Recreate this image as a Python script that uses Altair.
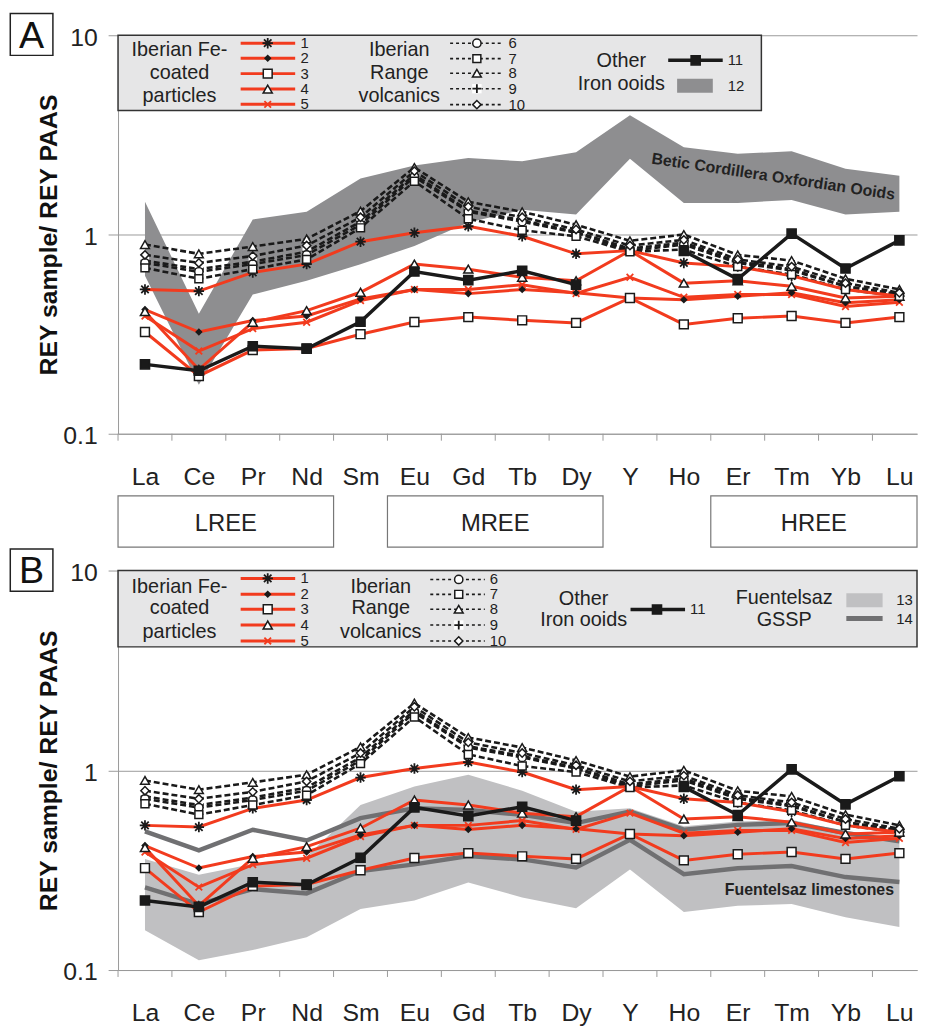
import altair as alt
import pandas as pd

# ---------------- data ----------------
CATS = ["La", "Ce", "Pr", "Nd", "Sm", "Eu", "Gd", "Tb", "Dy", "Y", "Ho", "Er", "Tm", "Yb", "Lu"]

# Iberian Fe-coated particles
S1 = [0.53, 0.52, 0.645, 0.71, 0.92, 1.02, 1.10, 0.98, 0.80, 0.83, 0.72, 0.69, 0.62, 0.53, 0.49]
S2 = [0.42, 0.324, 0.37, 0.39, 0.475, 0.53, 0.505, 0.53, 0.51, 0.48, 0.47, 0.49, 0.51, 0.455, 0.47]
S3 = [0.324, 0.195, 0.263, 0.268, 0.316, 0.364, 0.385, 0.371, 0.36, 0.48, 0.354, 0.38, 0.39, 0.36, 0.385]
S4 = [0.41, 0.21, 0.363, 0.415, 0.513, 0.71, 0.67, 0.61, 0.586, 0.83, 0.57, 0.586, 0.55, 0.48, 0.49]
S5 = [0.39, 0.26, 0.337, 0.363, 0.466, 0.53, 0.53, 0.56, 0.506, 0.61, 0.484, 0.50, 0.50, 0.435, 0.457]
# Iberian Range volcanics
S6 = [0.72, 0.65, 0.71, 0.79, 1.12, 1.95, 1.30, 1.16, 1.02, 0.83, 0.89, 0.72, 0.66, 0.55, 0.50]
S7 = [0.68, 0.60, 0.67, 0.75, 1.08, 1.85, 1.20, 1.05, 0.98, 0.82, 0.84, 0.69, 0.63, 0.53, 0.49]
S8 = [0.89, 0.80, 0.87, 0.95, 1.31, 2.17, 1.46, 1.30, 1.12, 0.93, 1.00, 0.79, 0.74, 0.60, 0.53]
S9 = [0.74, 0.67, 0.73, 0.82, 1.16, 2.00, 1.32, 1.18, 1.03, 0.85, 0.91, 0.73, 0.67, 0.55, 0.50]
S10 = [0.79, 0.72, 0.78, 0.88, 1.22, 2.08, 1.38, 1.22, 1.06, 0.88, 0.94, 0.75, 0.69, 0.57, 0.51]
# Other iron ooids (no Y value)
S11 = [0.223, 0.207, 0.275, 0.267, 0.365, 0.652, 0.59, 0.657, 0.56, None, 0.826, 0.597, 1.01, 0.675, 0.934]

SERIES = {"1": S1, "2": S2, "3": S3, "4": S4, "5": S5, "6": S6, "7": S7,
          "8": S8, "9": S9, "10": S10, "11": S11}

# 12: Betic Cordillera Oxfordian ooids (range)
BAND12_LOW = [0.62, 0.176, 0.50, 0.586, 0.71, 0.875, 1.15, 1.33, 1.26, 2.40, 1.44, 1.44, 1.49, 1.26, 1.30]
BAND12_HIGH = [1.46, 0.40, 1.19, 1.30, 1.91, 2.22, 2.42, 2.33, 2.59, 3.97, 2.74, 2.54, 2.62, 2.14, 1.97]
# 13: Fuentelsaz limestones (range), 14: Fuentelsaz GSSP lines
BAND13_LOW = [0.158, 0.112, 0.126, 0.146, 0.202, 0.223, 0.274, 0.231, 0.204, 0.319, 0.195, 0.21, 0.214, 0.184, 0.164]
BAND13_HIGH = [0.36, 0.30, 0.34, 0.37, 0.67, 0.83, 0.95, 0.79, 0.62, 0.645, 0.524, 0.554, 0.565, 0.494, 0.458]
LINE14A = [0.494, 0.397, 0.504, 0.445, 0.576, 0.645, 0.633, 0.598, 0.544, 0.622, 0.504, 0.533, 0.544, 0.485, 0.441]
LINE14B = [0.259, 0.214, 0.254, 0.242, 0.313, 0.338, 0.372, 0.358, 0.326, 0.449, 0.302, 0.323, 0.332, 0.292, 0.276]

REE_GROUPS = ["LREE", "MREE", "HREE"]
REE_FROM = ["La", "Eu", "Er"]
REE_TO = ["Nd", "Dy", "Lu"]

# ---------------- styles ----------------
FONT = "Liberation Sans"
RED = "#f23b1e"
DARK = "#1a1a1a"
AXIS_GREY = "#9a9a9a"
BAND12_COL = "#8e8e90"
BAND13_COL = "#c0c0c2"
LINE14_COL = "#707072"

W = 806
H_A = 402
H_B = 403
XMAX = -0.5 + W / 54.36

ASTER = "M-1,0L1,0M0,-1L0,1M-0.72,-0.72L0.72,0.72M-0.72,0.72L0.72,-0.72"
XMARK = "M-0.8,-0.8L0.8,0.8M-0.8,0.8L0.8,-0.8"
PLUS = "M-1,0L1,0M0,-1L0,1"

GROUP = {"1": "red", "2": "red", "3": "red", "4": "red", "5": "red",
         "6": "dash", "7": "dash", "8": "dash", "9": "dash", "10": "dash", "11": "black"}
# kind, shape, colour (stroke for open / fill for filled), size
MARKER = {
    "1": ("open", ASTER, DARK, 110),
    "2": ("filled", "diamond", DARK, 30),
    "3": ("filled", "square", "white", 80),
    "4": ("filled", "triangle-up", "white", 85),
    "5": ("open", XMARK, RED, 70),
    "6": ("filled", "circle", "white", 70),
    "7": ("filled", "square", "white", 64),
    "8": ("filled", "triangle-up", "white", 80),
    "9": ("open", PLUS, DARK, 80),
    "10": ("filled", "diamond", "white", 70),
    "11": ("filled", "square", DARK, 85),
}
WHITE_BACKED = ["9"]


def series_df():
    rows = []
    for name, vals in SERIES.items():
        seg = 0
        kind, shape, col, size = MARKER[name]
        for i, v in enumerate(vals):
            if v is None:
                seg += 1
                continue
            rows.append(dict(series=name, seg=f"{name}_{seg}", idx=i, value=v,
                             group=GROUP[name], kind=kind, shape=shape, mcol=col, msize=size))
    return pd.DataFrame(rows)


DF = series_df()
BAND12 = pd.DataFrame({"idx": range(len(CATS)), "low": BAND12_LOW, "high": BAND12_HIGH})
BAND13 = pd.DataFrame({"idx": range(len(CATS)), "low": BAND13_LOW, "high": BAND13_HIGH})
LINES14 = pd.concat([
    pd.DataFrame({"idx": range(len(CATS)), "value": LINE14A, "line": "a"}),
    pd.DataFrame({"idx": range(len(CATS)), "value": LINE14B, "line": "b"}),
])
BOUNDS = pd.DataFrame({"b": [i - 0.5 for i in range(len(CATS))]})
REE = pd.DataFrame({
    "name": REE_GROUPS,
    "x0": [CATS.index(c) - 0.5 for c in REE_FROM],
    "x1": [min(CATS.index(c) + 0.5, XMAX) for c in REE_TO],
})
REE["xm"] = (REE["x0"] + REE["x1"]) / 2
ONE = pd.DataFrame({"k": [0]})

LABEL_EXPR = "[" + ",".join(f"'{c}'" for c in CATS) + "][datum.value]"
X_AXIS = alt.Axis(values=list(range(len(CATS))), labelExpr=LABEL_EXPR, ticks=False, tickSize=0,
                  domainColor=AXIS_GREY, labelFontSize=25, labelPadding=31, labelColor="#222",
                  grid=False, title=None, labelFont=FONT)


def y_axis(H):
    return alt.Axis(values=[0.1, 1, 10],
                    labelExpr="datum.value >= 1 ? format(datum.value, 'd') : format(datum.value, '.1f')",
                    grid=True, gridColor=AXIS_GREY, tickSize=10, tickColor=AXIS_GREY,
                    domainColor=AXIS_GREY, labelFontSize=25, labelPadding=11, labelOffset=2,
                    labelColor="#222", labelFont=FONT,
                    title="REY sample/ REY PAAS", titleFontSize=25, titleFontWeight="bold",
                    titleFont=FONT, titleColor="#111", titleX=-62, titleY=H / 2, titleAngle=270,
                    titleBaseline="alphabetic", titleAlign="center")


def xenc(field="idx"):
    return alt.X(f"{field}:Q", scale=alt.Scale(domain=[-0.5, XMAX], nice=False, zero=False), axis=X_AXIS)


def yenc(field, H):
    return alt.Y(f"{field}:Q", scale=alt.Scale(type="log", domain=[0.1, 10], nice=False), axis=y_axis(H))


def px(field):
    return dict(scale=None, axis=None)


def data_layers(H):
    layers = []
    layers.append(alt.Chart(BOUNDS).mark_rule(color=AXIS_GREY, strokeWidth=1).encode(
        x=xenc("b"), y=alt.value(H), y2=alt.value(H + 7)))
    dash = DF[DF.group == "dash"]
    red = DF[DF.group == "red"]
    black = DF[DF.group == "black"]
    layers.append(alt.Chart(dash).mark_line(color=DARK, strokeWidth=2.6, strokeDash=[6, 3]).encode(
        x=xenc(), y=yenc("value", H), detail="seg:N"))
    layers.append(alt.Chart(red).mark_line(color=RED, strokeWidth=3).encode(
        x=xenc(), y=yenc("value", H), detail="seg:N"))
    layers.append(alt.Chart(black).mark_line(color=DARK, strokeWidth=3.5).encode(
        x=xenc(), y=yenc("value", H), detail="seg:N"))
    bg = DF[DF.series.isin(WHITE_BACKED)]
    layers.append(alt.Chart(bg).mark_point(filled=True, shape="square", fill="white", strokeWidth=0,
                                           size=70, opacity=1).encode(
        x=xenc(), y=yenc("value", H)))
    op = DF[DF.kind == "open"]
    fi = DF[DF.kind == "filled"]
    layers.append(alt.Chart(op).mark_point(filled=False, strokeWidth=1.8, opacity=1).encode(
        x=xenc(), y=yenc("value", H),
        shape=alt.Shape("shape:N", scale=None),
        stroke=alt.Stroke("mcol:N", scale=None),
        size=alt.Size("msize:Q", scale=None)))
    layers.append(alt.Chart(fi).mark_point(filled=True, stroke=DARK, strokeWidth=1.5, opacity=1).encode(
        x=xenc(), y=yenc("value", H),
        shape=alt.Shape("shape:N", scale=None),
        fill=alt.Fill("mcol:N", scale=None),
        size=alt.Size("msize:Q", scale=None)))
    return layers


def legend_layers(cfg):
    rules, dashes, marks, big, nums, rects = [], [], [], [], [], []
    for k, name in enumerate(["1", "2", "3", "4", "5"]):
        y = cfg["red_rows"][k]
        rules.append(dict(x1=cfg["red_x"][0], x2=cfg["red_x"][1], y=y, color=RED, w=3))
        marks.append(dict(x=cfg["red_x"][2], y=y, name=name))
        nums.append(dict(x=cfg["red_x"][3], y=y, t=name))
    for k, name in enumerate(["6", "7", "8", "9", "10"]):
        y = cfg["dash_rows"][k]
        dashes.append(dict(x1=cfg["dash_x"][0], x2=cfg["dash_x"][1], y=y))
        marks.append(dict(x=cfg["dash_x"][2], y=y, name=name))
        nums.append(dict(x=cfg["dash_x"][3], y=y, t=name))
    x1, x2, xm, xn, y = cfg["l11"]
    rules.append(dict(x1=x1, x2=x2, y=y, color=DARK, w=3.5))
    marks.append(dict(x=xm, y=y, name="11"))
    nums.append(dict(x=xn, y=y, t="11"))
    for label, x, rows in cfg["groups"]:
        for t, yy in zip(label, rows):
            big.append(dict(x=x, y=yy, t=t))
    for (rx1, rx2, ry1, ry2, col, num, nx, ny) in cfg["rects"]:
        rects.append(dict(x1=rx1, x2=rx2, y1=ry1, y2=ry2, col=col))
        nums.append(dict(x=nx, y=ny, t=num))
    for (lx1, lx2, ly, col, w, num, nx, ny) in cfg["extra_rules"]:
        rules.append(dict(x1=lx1, x2=lx2, y=ly, color=col, w=w))
        nums.append(dict(x=nx, y=ny, t=num))

    mdf = pd.DataFrame(marks)
    mdf["kind"] = mdf.name.map(lambda n: MARKER[n][0])
    mdf["shape"] = mdf.name.map(lambda n: MARKER[n][1])
    mdf["mcol"] = mdf.name.map(lambda n: MARKER[n][2])
    mdf["msize"] = mdf.name.map(lambda n: MARKER[n][3])

    L = []
    L.append(alt.Chart(ONE).mark_rect(fill="#e6e6e7", stroke="#333", strokeWidth=1.5).encode(
        x=alt.value(0), x2=alt.value(cfg["box"][0]), y=alt.value(0), y2=alt.value(cfg["box"][1])))
    L.append(alt.Chart(pd.DataFrame(rects)).mark_rect().encode(
        x=alt.X("x1:Q", **px("x1")), x2="x2:Q", y=alt.Y("y1:Q", **px("y1")), y2="y2:Q",
        fill=alt.Fill("col:N", scale=None)))
    L.append(alt.Chart(pd.DataFrame(rules)).mark_rule().encode(
        x=alt.X("x1:Q", **px("x1")), x2="x2:Q", y=alt.Y("y:Q", **px("y")),
        color=alt.Color("color:N", scale=None), strokeWidth=alt.StrokeWidth("w:Q", scale=None)))
    L.append(alt.Chart(pd.DataFrame(dashes)).mark_rule(color=DARK, strokeWidth=1.6, strokeDash=[3, 3]).encode(
        x=alt.X("x1:Q", **px("x1")), x2="x2:Q", y=alt.Y("y:Q", **px("y"))))
    bgm = mdf[mdf.name.isin(WHITE_BACKED)]
    L.append(alt.Chart(bgm).mark_point(filled=True, shape="square", fill="white", strokeWidth=0,
                                       size=90, opacity=1).encode(
        x=alt.X("x:Q", **px("x")), y=alt.Y("y:Q", **px("y"))))
    L.append(alt.Chart(mdf[mdf.kind == "open"]).mark_point(filled=False, strokeWidth=1.8, opacity=1).encode(
        x=alt.X("x:Q", **px("x")), y=alt.Y("y:Q", **px("y")),
        shape=alt.Shape("shape:N", scale=None), stroke=alt.Stroke("mcol:N", scale=None),
        size=alt.Size("msize:Q", scale=None)))
    L.append(alt.Chart(mdf[mdf.kind == "filled"]).mark_point(filled=True, stroke=DARK, strokeWidth=1.5, opacity=1).encode(
        x=alt.X("x:Q", **px("x")), y=alt.Y("y:Q", **px("y")),
        shape=alt.Shape("shape:N", scale=None), fill=alt.Fill("mcol:N", scale=None),
        size=alt.Size("msize:Q", scale=None)))
    L.append(alt.Chart(pd.DataFrame(big)).mark_text(fontSize=20, align="center", baseline="middle",
                                                    color="#222", font=FONT).encode(
        x=alt.X("x:Q", **px("x")), y=alt.Y("y:Q", **px("y")), text="t:N"))
    L.append(alt.Chart(pd.DataFrame(nums)).mark_text(fontSize=15, align="left", baseline="middle",
                                                     color="#222", font=FONT).encode(
        x=alt.X("x:Q", **px("x")), y=alt.Y("y:Q", **px("y")), text="t:N"))
    return L


def panel_box(letter, y_top, y_bot):
    return [
        alt.Chart(ONE).mark_rect(fill="white", stroke="#222", strokeWidth=1.5).encode(
            x=alt.value(-108.7), x2=alt.value(-65.7), y=alt.value(y_top), y2=alt.value(y_bot)),
        alt.Chart(ONE).mark_text(text=letter, fontSize=38, align="center", baseline="alphabetic",
                                 color="#111", font=FONT).encode(
            x=alt.value(-87.2), y=alt.value(13)),
    ]


CFG_A = dict(
    box=(649, 76),
    red_rows=[8, 23.3, 38.7, 54.3, 69.7], red_x=(123.7, 178.7, 151, 184),
    dash_rows=[8, 23.6, 38.3, 53.9, 70], dash_x=(335, 389, 362, 394),
    l11=(555, 610, 582.7, 615, 25.3),
    groups=[(["Iberian Fe-", "coated", "particles"], 62, [14.7, 38, 61.3]),
            (["Iberian", "Range", "volcanics"], 283.7, [14.7, 38, 61.3]),
            (["Other", "Iron ooids"], 507.7, [26.3, 49.7])],
    rects=[(564, 600, 44, 58, BAND12_COL, "12", 615, 51)],
    extra_rules=[],
)
CFG_B = dict(
    box=(W, 77),
    red_rows=[8, 24, 39, 55, 71], red_x=(123.7, 178.7, 151, 184),
    dash_rows=[9, 24, 39, 55, 71], dash_x=(315, 370, 343.7, 375),
    l11=(517, 572, 543.7, 577, 39.3),
    groups=[(["Iberian Fe-", "coated", "particles"], 62, [16.7, 38.3, 61.7]),
            (["Iberian", "Range", "volcanics"], 265, [16.7, 38.3, 61.7]),
            (["Other", "Iron ooids"], 469.7, [28.3, 50]),
            (["Fuentelsaz", "GSSP"], 672, [28, 50])],
    rects=[(734.7, 771.3, 23, 37, BAND13_COL, "13", 785, 30)],
    extra_rules=[(734.7, 771.3, 48.3, LINE14_COL, 5, "14", 785, 48.5)],
)

# ---------------- panel A ----------------
band_a = alt.Chart(BAND12).mark_area(color=BAND12_COL, opacity=1).encode(
    x=xenc(), y=yenc("high", H_A), y2="low:Q")
label_a = alt.Chart(pd.DataFrame({"idx": [11.66], "value": [1.95], "t": ["Betic Cordillera Oxfordian Ooids"]})
                    ).mark_text(fontSize=16, fontWeight="bold", angle=8.5, color="#222", font=FONT).encode(
    x=xenc(), y=yenc("value", H_A), text="t:N")
ree_boxes = alt.Chart(REE).mark_rect(fill="white", stroke="#777", strokeWidth=1.2).encode(
    x=xenc("x0"), x2="x1:Q", y=alt.value(464.7), y2=alt.value(516.3))
ree_text = alt.Chart(REE).mark_text(fontSize=24, color="#222", font=FONT, baseline="middle").encode(
    x=xenc("xm"), y=alt.value(492.9), text="name:N")

panel_a = alt.layer(
    band_a, label_a, *data_layers(H_A), *legend_layers(CFG_A), *panel_box("A", -22, 20.3),
    ree_boxes, ree_text
).properties(width=W, height=H_A)

# ---------------- panel B ----------------
band_b = alt.Chart(BAND13).mark_area(color=BAND13_COL, opacity=1).encode(
    x=xenc(), y=yenc("high", H_B), y2="low:Q")
lines_b = alt.Chart(LINES14).mark_line(color=LINE14_COL, strokeWidth=4.5).encode(
    x=xenc(), y=yenc("value", H_B), detail="line:N")
label_b = alt.Chart(pd.DataFrame({"idx": [12.33], "value": [0.251], "t": ["Fuentelsaz limestones"]})
                    ).mark_text(fontSize=16, fontWeight="bold", color="#222", font=FONT).encode(
    x=xenc(), y=yenc("value", H_B), text="t:N")

panel_b = alt.layer(
    band_b, lines_b, label_b, *data_layers(H_B), *legend_layers(CFG_B), *panel_box("B", -21.7, 21)
).properties(width=W, height=H_B)

chart = alt.vconcat(panel_a, panel_b, spacing=0).properties(
    padding={"left": 1, "top": 0, "right": 0, "bottom": 0}, background="white"
).configure(font=FONT).configure_view(strokeWidth=0)

chart.save("out.html", embed_options={"renderer": "svg", "actions": False})
